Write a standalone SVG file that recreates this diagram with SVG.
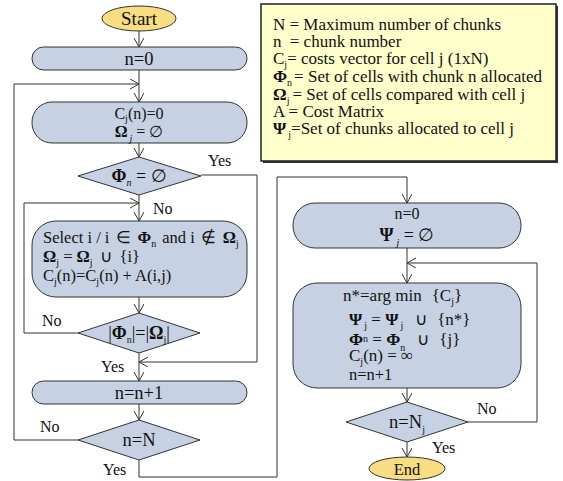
<svg xmlns="http://www.w3.org/2000/svg" width="563" height="481" viewBox="0 0 563 481">
<defs>
<marker id="arr" markerUnits="userSpaceOnUse" markerWidth="12" markerHeight="12" refX="9" refY="5" orient="auto">
<path d="M0,0 L9,5 L0,10" fill="none" stroke="#333" stroke-width="1"/>
</marker>
<style>
text{font-family:"Liberation Serif","Times New Roman",serif;fill:#111;}
.box{fill:#C6D2E3;stroke:#333;stroke-width:1;}
.term{fill:#F8DD82;stroke:#333;stroke-width:1;}
.ln{fill:none;stroke:#333;stroke-width:1;marker-end:url(#arr);}
.c{text-anchor:middle;}
.m{font-size:16px;}
.lg{font-size:17px;}
.l{font-size:18.5px;}
.s{font-size:10px;}
.g{font-weight:bold;}
</style>
</defs>

<g id="legend">
<rect x="263" y="6" width="295" height="157" fill="#333"/>
<rect x="261" y="4" width="295" height="157" fill="#FFFFCC" stroke="#222" stroke-width="1.5"/>
<text class="lg" x="273" y="30">N = Maximum number of chunks</text>
<text class="lg" x="273" y="47">n <tspan dx="4">= chunk number</tspan></text>
<text class="lg" x="273" y="64">C<tspan class="s" dy="4">j</tspan><tspan dy="-4">= costs vector for cell j (1xN)</tspan></text>
<text class="lg" x="273" y="82"><tspan class="g">Φ</tspan><tspan class="s" dy="4">n</tspan><tspan dy="-4" dx="2">= Set of cells with chunk n allocated</tspan></text>
<text class="lg" x="273" y="100"><tspan class="g">Ω</tspan><tspan class="s" dy="4">j</tspan><tspan dy="-4" dx="3">= Set of cells compared with cell j</tspan></text>
<text class="lg" x="273" y="117">A = Cost Matrix</text>
<text class="lg" x="273" y="134"><tspan class="g">Ψ</tspan><tspan class="s" dy="4" dx="2">j</tspan><tspan dy="-4">=Set of chunks allocated to cell j</tspan></text>
</g>

<g id="connectors">
<path class="ln" d="M139,31 L139,47"/>
<path class="ln" d="M139,70 L139,102"/>
<path class="ln" d="M78,440 L14,440 L14,84 L139,84"/>
<path class="ln" d="M139,143 L139,157"/>
<path class="ln" d="M139,195 L139,221"/>
<path class="ln" d="M201,175 L257,175 L257,362 L139,362"/>
<path class="ln" d="M78,333 L24,333 L24,203 L139,203"/>
<path class="ln" d="M139,297 L139,313"/>
<path class="ln" d="M139,353 L139,381"/>
<path class="ln" d="M139,404 L139,420"/>
<path class="ln" d="M139,460 L139,477 L277,477 L277,177 L407,177 L407,203"/>
<path class="ln" d="M407,248 L407,283"/>
<path class="ln" d="M468,422 L537,422 L537,263 L407,263"/>
<path class="ln" d="M407,388 L407,402"/>
<path class="ln" d="M407,442 L407,457"/>
<text class="m" x="208" y="166">Yes</text>
<text class="m" x="153" y="214">No</text>
<text class="m" x="42" y="326">No</text>
<text class="m" x="101" y="372">Yes</text>
<text class="m" x="40" y="432">No</text>
<text class="m" x="103" y="475">Yes</text>
<text class="m" x="477" y="414">No</text>
<text class="m" x="432" y="453">Yes</text>
</g>

<g id="start">
<ellipse class="term" cx="139" cy="18.5" rx="37" ry="12.5"/>
<text class="c" x="139" y="25" style="font-size:19px">Start</text>
</g>

<g id="init">
<rect class="box" x="32" y="47" width="215" height="23" rx="11.5"/>
<text class="c l" x="139" y="64.5">n=0</text>
</g>

<g id="reset">
<rect class="box" x="32" y="102" width="215" height="41" rx="20"/>
<text class="c m" x="139" y="119">C<tspan class="s" dy="3">j</tspan><tspan dy="-3">(n)=0</tspan></text>
<text class="c m" x="139" y="137"><tspan class="g">Ω</tspan><tspan class="s" dy="5" font-style="italic" dx="2">j</tspan><tspan dy="-5"> = ∅</tspan></text>
</g>

<g id="dec1">
<polygon class="box" points="139,157 201,176 139,195 78,176"/>
<text class="c" x="139" y="182" style="font-size:18px"><tspan class="g">Φ</tspan><tspan class="s" dy="4" font-style="italic">n</tspan><tspan dy="-4"> = ∅</tspan></text>
</g>

<g id="select">
<rect class="box" x="32" y="221" width="215" height="76" rx="24"/>
<text x="43" y="243" style="font-size:16.5px">Select i / i <tspan dx="2">∈</tspan><tspan class="g" dx="7">Φ</tspan><tspan class="s" dy="4">n</tspan><tspan dy="-4" dx="6">and i</tspan><tspan dx="6">∉</tspan><tspan class="g" dx="7">Ω</tspan><tspan class="s" dy="4">j</tspan></text>
<text x="43" y="262" style="font-size:16.5px"><tspan class="g">Ω</tspan><tspan class="s" dy="4">j</tspan><tspan dy="-4"> = </tspan><tspan class="g">Ω</tspan><tspan class="s" dy="4">j</tspan><tspan dy="-4" dx="7">∪</tspan><tspan dx="8">{i}</tspan></text>
<text x="43" y="281" style="font-size:16.5px">C<tspan class="s" dy="4">j</tspan><tspan dy="-4">(n)=C</tspan><tspan class="s" dy="4">j</tspan><tspan dy="-4">(n) + A(i,j)</tspan></text>
</g>

<g id="dec2">
<polygon class="box" points="139,313 200,333 139,353 78,333"/>
<text class="c" x="139" y="339" style="font-size:18px">|<tspan class="g">Φ</tspan><tspan class="s" dy="4">n</tspan><tspan dy="-4">|=|</tspan><tspan class="g">Ω</tspan><tspan class="s" dy="4">j</tspan><tspan dy="-4">|</tspan></text>
</g>

<g id="incr">
<rect class="box" x="32" y="381" width="215" height="23" rx="11.5"/>
<text class="c l" x="139" y="398.5">n=n+1</text>
</g>

<g id="dec3">
<polygon class="box" points="139,420 200,440 139,460 78,440"/>
<text class="c l" x="139" y="446">n=N</text>
</g>

<g id="init2">
<rect class="box" x="293" y="203" width="228" height="45" rx="22"/>
<text class="c m" x="407" y="219">n=0</text>
<text class="c" x="407" y="241" style="font-size:18px"><tspan class="g">Ψ</tspan><tspan class="s" dy="5" font-style="italic" dx="3">j</tspan><tspan dy="-5"> = ∅</tspan></text>
</g>

<g id="alloc">
<rect class="box" x="293" y="283" width="228" height="105" rx="24"/>
<text x="343" y="301" style="font-size:17px">n*=arg min<tspan dx="10">{C</tspan><tspan class="s" dy="4">j</tspan><tspan dy="-4">}</tspan></text>
<text x="349" y="325" style="font-size:17px"><tspan class="g">Ψ</tspan><tspan class="s" dy="4" dx="2">j</tspan><tspan dy="-4"> = </tspan><tspan class="g">Ψ</tspan><tspan class="s" dy="4" dx="2">j</tspan><tspan dy="-4" dx="12">∪</tspan><tspan dx="10">{n*}</tspan></text>
<text x="349" y="345" style="font-size:17px"><tspan class="g">Φ</tspan><tspan class="s" dy="-3">n</tspan><tspan dy="3"> = </tspan><tspan class="g">Φ</tspan><tspan class="s" dy="6">n</tspan><tspan dy="-6" dx="12">∪</tspan><tspan dx="10">{j}</tspan></text>
<text x="349" y="361" style="font-size:17px">C<tspan class="s" dy="4">j</tspan><tspan dy="-4">(n) = ∞</tspan></text>
<text x="349" y="380" style="font-size:16.5px">n=n+1</text>
</g>

<g id="dec4">
<polygon class="box" points="407,402 468,422 407,442 346,422"/>
<text class="c l" x="407" y="428">n=N<tspan class="s" dy="5">j</tspan></text>
</g>

<g id="end">
<ellipse class="term" cx="407" cy="468.5" rx="38" ry="11.5"/>
<text class="c" x="407" y="475" style="font-size:16.5px">End</text>
</g>
</svg>
